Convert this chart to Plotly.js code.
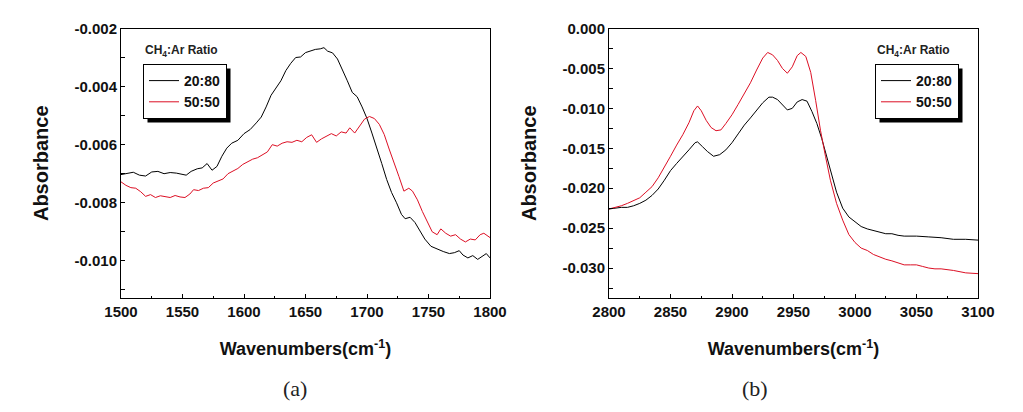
<!DOCTYPE html>
<html>
<head>
<meta charset="utf-8">
<script src="https://cdn.plot.ly/plotly-3.0.1.min.js"></script>
<style>
  html, body { margin: 0; padding: 0; background: #fff; }
  #plot1 { width: 1023px; height: 412px; }
</style>
</head>
<body>
<div id="plot1"></div>
<script>
// (a) 1500-1800 cm-1 region
const wn_a_2080 = [1500, 1505, 1510, 1515, 1520, 1525, 1530, 1535, 1540, 1545, 1550, 1553, 1557, 1562, 1566, 1570, 1574, 1578, 1582, 1586, 1590, 1595, 1600, 1605, 1610, 1614, 1618, 1622, 1626, 1630, 1634, 1638, 1642, 1646, 1650, 1654, 1658, 1662, 1665, 1668, 1672, 1676, 1680, 1684, 1688, 1692, 1696, 1700, 1704, 1708, 1712, 1716, 1720, 1724, 1728, 1731, 1735, 1739, 1743, 1747, 1752, 1757, 1762, 1767, 1771, 1775, 1778, 1782, 1786, 1790, 1794, 1797, 1800];
const abs_a_2080 = [-0.00703, -0.00700, -0.00695, -0.00705, -0.00708, -0.00694, -0.00692, -0.00700, -0.00696, -0.00698, -0.00702, -0.00705, -0.00692, -0.00683, -0.00680, -0.00665, -0.00688, -0.00675, -0.00640, -0.00612, -0.00595, -0.00585, -0.00562, -0.00548, -0.00525, -0.00505, -0.00470, -0.00430, -0.00405, -0.00380, -0.00345, -0.00320, -0.00300, -0.00298, -0.00283, -0.00278, -0.00272, -0.00270, -0.00266, -0.00278, -0.00284, -0.00305, -0.00340, -0.00380, -0.00420, -0.00435, -0.00470, -0.00510, -0.00560, -0.00610, -0.00665, -0.00720, -0.00765, -0.00800, -0.00840, -0.00855, -0.00850, -0.00868, -0.00895, -0.00925, -0.00950, -0.00960, -0.00968, -0.00975, -0.00972, -0.00965, -0.00980, -0.00990, -0.00982, -0.00995, -0.00985, -0.00975, -0.00990];

const wn_a_5050 = [1500, 1504, 1508, 1512, 1516, 1520, 1524, 1528, 1532, 1536, 1540, 1544, 1548, 1552, 1556, 1559, 1563, 1567, 1571, 1575, 1579, 1583, 1587, 1591, 1595, 1599, 1603, 1607, 1611, 1615, 1619, 1623, 1627, 1631, 1635, 1639, 1643, 1647, 1651, 1655, 1659, 1663, 1667, 1671, 1675, 1679, 1683, 1686, 1690, 1694, 1698, 1702, 1706, 1710, 1714, 1718, 1722, 1726, 1730, 1734, 1737, 1741, 1745, 1749, 1753, 1757, 1760, 1764, 1768, 1772, 1776, 1780, 1784, 1788, 1792, 1795, 1800];
const abs_a_5050 = [-0.00728, -0.00740, -0.00748, -0.00750, -0.00762, -0.00778, -0.00772, -0.00782, -0.00776, -0.00778, -0.00782, -0.00775, -0.00780, -0.00782, -0.00770, -0.00755, -0.00758, -0.00750, -0.00748, -0.00732, -0.00725, -0.00718, -0.00700, -0.00690, -0.00682, -0.00668, -0.00658, -0.00650, -0.00645, -0.00635, -0.00625, -0.00600, -0.00605, -0.00595, -0.00590, -0.00592, -0.00585, -0.00590, -0.00575, -0.00566, -0.00592, -0.00580, -0.00570, -0.00562, -0.00570, -0.00556, -0.00560, -0.00542, -0.00560, -0.00535, -0.00512, -0.00503, -0.00510, -0.00530, -0.00565, -0.00615, -0.00660, -0.00710, -0.00760, -0.00750, -0.00760, -0.00790, -0.00830, -0.00868, -0.00900, -0.00910, -0.00890, -0.00905, -0.00915, -0.00910, -0.00925, -0.00935, -0.00925, -0.00928, -0.00910, -0.00905, -0.00920];

// (b) 2800-3100 cm-1 region
const wn_b_2080 = [2800, 2805, 2810, 2815, 2820, 2825, 2830, 2835, 2840, 2845, 2850, 2855, 2860, 2865, 2870, 2872, 2876, 2880, 2885, 2890, 2895, 2900, 2905, 2910, 2915, 2920, 2925, 2930, 2933, 2937, 2941, 2945, 2949, 2953, 2957, 2961, 2965, 2969, 2973, 2977, 2981, 2985, 2990, 2995, 3000, 3005, 3010, 3015, 3020, 3025, 3030, 3035, 3040, 3050, 3060, 3070, 3080, 3090, 3100];
const abs_b_2080 = [-0.0226, -0.0225, -0.0224, -0.0224, -0.0222, -0.0219, -0.0215, -0.0209, -0.0201, -0.0190, -0.0178, -0.0169, -0.0161, -0.0152, -0.0143, -0.0142, -0.0148, -0.0154, -0.0160, -0.0158, -0.0152, -0.0143, -0.0132, -0.0121, -0.0112, -0.0103, -0.0093, -0.0086, -0.0086, -0.0089, -0.0096, -0.0102, -0.0100, -0.0092, -0.0089, -0.0091, -0.0104, -0.0119, -0.0138, -0.0160, -0.0185, -0.0205, -0.0225, -0.0236, -0.0242, -0.0248, -0.0251, -0.0253, -0.0255, -0.0257, -0.0257, -0.0259, -0.0260, -0.0260, -0.0261, -0.0262, -0.0264, -0.0264, -0.0265];

const wn_b_5050 = [2800, 2805, 2810, 2815, 2820, 2825, 2830, 2835, 2840, 2845, 2850, 2855, 2860, 2865, 2869, 2872, 2875, 2879, 2883, 2887, 2891, 2895, 2900, 2905, 2910, 2915, 2920, 2925, 2929, 2933, 2937, 2941, 2945, 2949, 2953, 2956, 2960, 2964, 2968, 2972, 2976, 2980, 2985, 2990, 2995, 3000, 3005, 3010, 3015, 3020, 3025, 3030, 3035, 3040, 3045, 3050, 3055, 3060, 3065, 3070, 3080, 3090, 3100];
const abs_b_5050 = [-0.0226, -0.0224, -0.0222, -0.0219, -0.0216, -0.0212, -0.0205, -0.0198, -0.0187, -0.0174, -0.0160, -0.0146, -0.0133, -0.0118, -0.0103, -0.0097, -0.0103, -0.0115, -0.0124, -0.0128, -0.0127, -0.0119, -0.0108, -0.0095, -0.0082, -0.0068, -0.0052, -0.0037, -0.0030, -0.0033, -0.0040, -0.0050, -0.0056, -0.0048, -0.0034, -0.0030, -0.0035, -0.0055, -0.0090, -0.0128, -0.0160, -0.0190, -0.0219, -0.0240, -0.0258, -0.0268, -0.0275, -0.0278, -0.0283, -0.0286, -0.0289, -0.0291, -0.0294, -0.0296, -0.0296, -0.0296, -0.0298, -0.0300, -0.0301, -0.0301, -0.0303, -0.0306, -0.0307];

const ratio_names = ['20:80', '50:50'];

// tick labels (plain hyphen minus, like the original figure)
const ytick_a_vals = [-0.010, -0.008, -0.006, -0.004, -0.002];
const ytick_a_text = ['-0.010', '-0.008', '-0.006', '-0.004', '-0.002'];
const ytick_b_vals = [-0.030, -0.025, -0.020, -0.015, -0.010, -0.005, 0];
const ytick_b_text = ['-0.030', '-0.025', '-0.020', '-0.015', '-0.010', '-0.005', '0.000'];

const W = 1023, H = 412;
const px = (v) => v / W;
const py = (v) => 1 - v / H;

const black = '#000000';
const red = '#dc0f24';
const sans = 'Liberation Sans, Arial, sans-serif';

const data = [
    { x: wn_a_2080, y: abs_a_2080, type: 'scatter', mode: 'lines', name: ratio_names[0],
      xaxis: 'x', yaxis: 'y', legend: 'legend', line: { color: black, width: 1 } },
    { x: wn_a_5050, y: abs_a_5050, type: 'scatter', mode: 'lines', name: ratio_names[1],
      xaxis: 'x', yaxis: 'y', legend: 'legend', line: { color: red, width: 1 } },
    { x: wn_b_2080, y: abs_b_2080, type: 'scatter', mode: 'lines', name: ratio_names[0],
      xaxis: 'x2', yaxis: 'y2', legend: 'legend2', line: { color: black, width: 1 } },
    { x: wn_b_5050, y: abs_b_5050, type: 'scatter', mode: 'lines', name: ratio_names[1],
      xaxis: 'x2', yaxis: 'y2', legend: 'legend2', line: { color: red, width: 1 } },
];

const tickfont = { family: sans, size: 15, weight: 'bold', color: '#111' };

function xAxis(domain, anchor, range) {
    return {
        domain: domain, anchor: anchor, range: range,
        dtick: 50, tick0: 1500,
        ticks: 'inside', ticklen: 4, tickcolor: black,
        minor: { ticks: 'inside', ticklen: 2, dtick: 25, tickcolor: black },
        showline: true, mirror: true, linecolor: black, linewidth: 1,
        showgrid: false, zeroline: false, tickfont: tickfont,
        title: { text: 'Wavenumbers(cm<sup>-1</sup>)', standoff: 23,
                 font: { family: sans, size: 18, weight: 'bold', color: '#111' } },
    };
}
function yAxis(domain, anchor, range, vals, text, minorStep) {
    return {
        domain: domain, anchor: anchor, range: range,
        tickmode: 'array', tickvals: vals, ticktext: text,
        ticks: 'inside', ticklen: 4, tickcolor: black,
        minor: { ticks: 'inside', ticklen: 4, dtick: minorStep, tick0: 0, tickcolor: black },
        showline: true, mirror: true, linecolor: black, linewidth: 1,
        showgrid: false, zeroline: false, tickfont: tickfont,
        title: { text: 'Absorbance', standoff: 20,
                 font: { family: sans, size: 20, weight: 'bold', color: '#111' } },
    };
}

const legendBase = {
    xanchor: 'left', yanchor: 'top',
    bgcolor: '#ffffff', bordercolor: black, borderwidth: 1,
    font: { family: sans, size: 14, weight: 'bold', color: '#111' },
    itemwidth: 30, tracegroupgap: 0,
};

const yDom = [py(298), py(28.5)];

const layout = {
    width: W, height: H,
    margin: { l: 0, r: 0, t: 0, b: 0 },
    paper_bgcolor: '#fff', plot_bgcolor: '#fff',
    showlegend: true,
    xaxis: xAxis([px(121), px(490)], 'y', [1500, 1800]),
    yaxis: yAxis(yDom, 'x', [-0.01128, -0.002], ytick_a_vals, ytick_a_text, 0.001),
    xaxis2: xAxis([px(609), px(978)], 'y2', [2800, 3100]),
    yaxis2: yAxis(yDom, 'x2', [-0.03375, 0], ytick_b_vals, ytick_b_text, 0.0025),
    legend: Object.assign({ x: px(143), y: py(64) }, legendBase),
    legend2: Object.assign({ x: px(875), y: py(64) }, legendBase),
    annotations: [
        { text: '<b>CH<sub>4</sub>:Ar Ratio</b>', xref: 'paper', yref: 'paper',
          x: px(143), y: py(51), xanchor: 'left', yanchor: 'middle', showarrow: false,
          font: { family: sans, size: 12, color: '#222' } },
        { text: '<b>CH<sub>4</sub>:Ar Ratio</b>', xref: 'paper', yref: 'paper',
          x: px(875), y: py(51), xanchor: 'left', yanchor: 'middle', showarrow: false,
          font: { family: sans, size: 12, color: '#222' } },
        { text: '(a)', xref: 'paper', yref: 'paper',
          x: px(295), y: py(388), xanchor: 'center', yanchor: 'middle', showarrow: false,
          font: { family: 'Liberation Serif, serif', size: 22, color: '#222' } },
        { text: '(b)', xref: 'paper', yref: 'paper',
          x: px(755), y: py(388), xanchor: 'center', yanchor: 'middle', showarrow: false,
          font: { family: 'Liberation Serif, serif', size: 22, color: '#222' } },
    ],
};

Plotly.newPlot('plot1', data, layout, { staticPlot: true }).then((gd) => {
    // drop shadow behind each legend box, sized from the drawn legend
    const host = gd.getBoundingClientRect();
    const shapes = [];
    gd.querySelectorAll('.infolayer rect.bg').forEach((bg) => {
        const cls = bg.parentNode.getAttribute('class') || '';
        if (cls.indexOf('legend') !== 0) return;
        const r = bg.getBoundingClientRect();
        const l = r.left - host.left, t = r.top - host.top;
        shapes.push({
            type: 'rect', xref: 'paper', yref: 'paper', layer: 'above',
            x0: px(l + 4), x1: px(l + r.width + 4),
            y0: py(t + 4), y1: py(t + r.height + 4),
            fillcolor: black, line: { width: 0 },
        });
    });
    return Plotly.relayout(gd, { shapes: shapes });
});
</script>
</body>
</html>
